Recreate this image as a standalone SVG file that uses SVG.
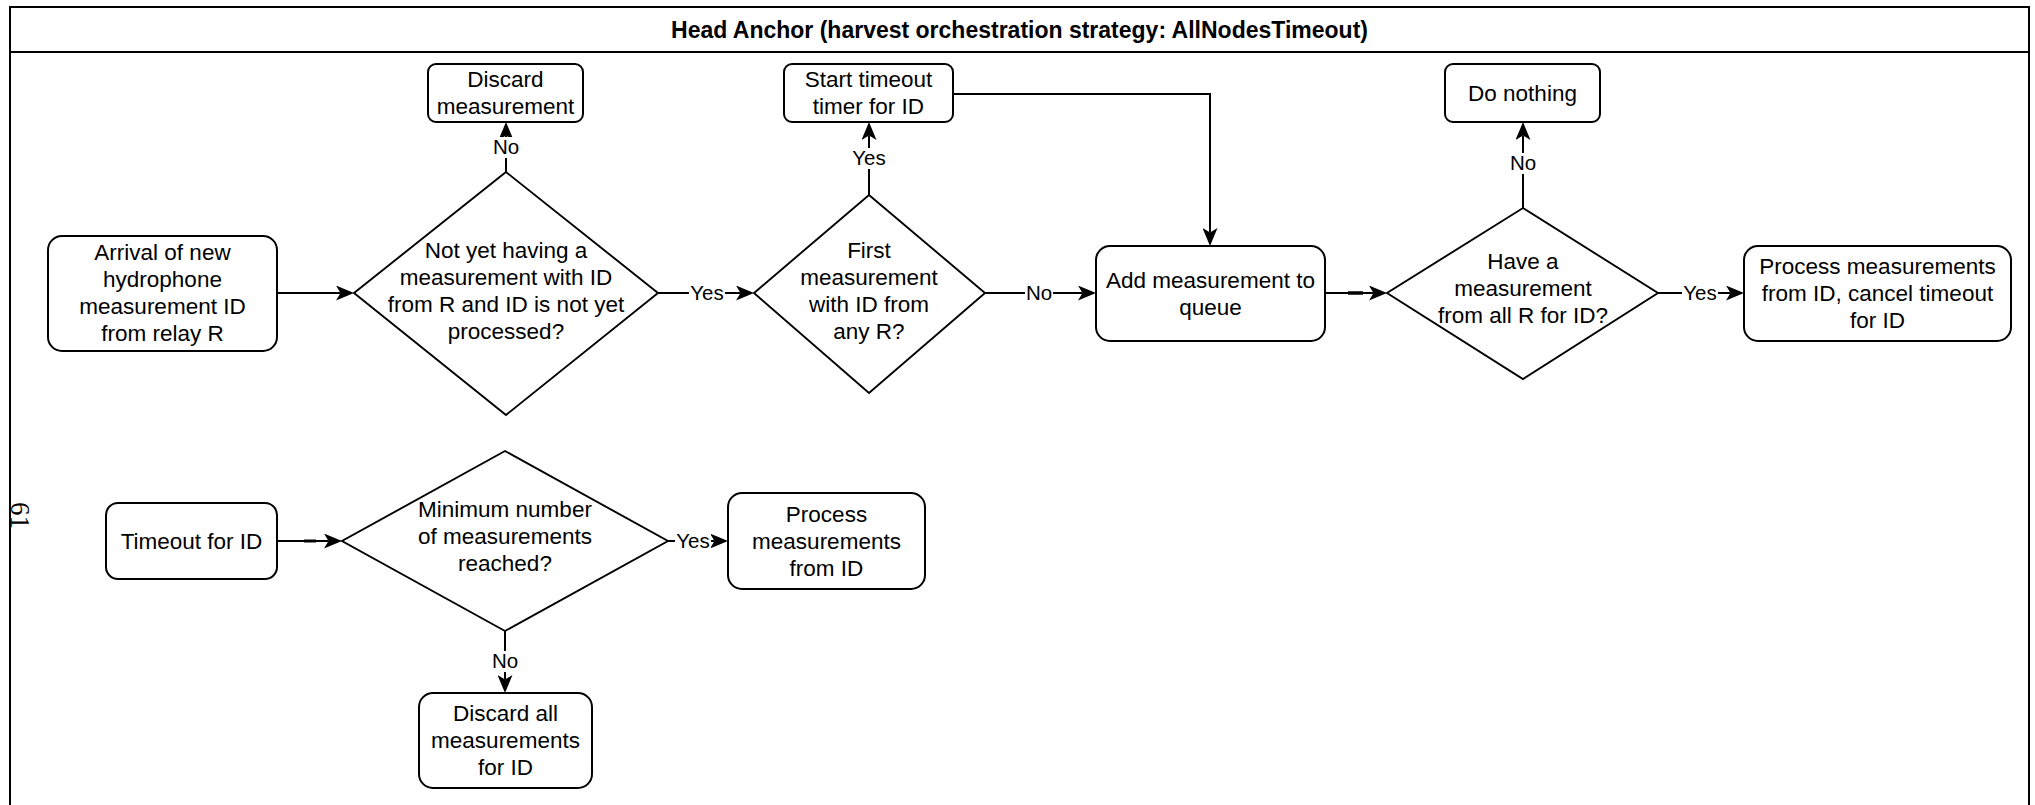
<svg xmlns="http://www.w3.org/2000/svg" width="2035" height="805" viewBox="0 0 2035 805">
  <style>
    .frame { fill: none; stroke: #000; stroke-width: 2; }
    .box { fill: #fff; stroke: #000; stroke-width: 2; }
    .dia { fill: #fff; stroke: #000; stroke-width: 1.9; }
    .t { font-family: "Liberation Sans", Arial, sans-serif; font-size: 22.5px; fill: #000; text-anchor: middle; }
    .title { font-family: "Liberation Sans", Arial, sans-serif; font-size: 23px; font-weight: bold; fill: #000; text-anchor: middle; }
    .edge { fill: none; stroke: #000; stroke-width: 2; marker-end: url(#arrow); }
    .lbl-bg { fill: #fff; }
    .lbl { font-family: "Liberation Sans", Arial, sans-serif; font-size: 20.5px; fill: #000; text-anchor: middle; }
    .page { font-family: "Liberation Serif", "Times New Roman", serif; font-size: 27px; fill: #000; }
  </style>
  <defs>
    <marker id="arrow" viewBox="0 0 18 15" markerWidth="18" markerHeight="15" refX="4.5" refY="7.5" orient="auto" markerUnits="userSpaceOnUse">
      <path d="M0,0 L18,7.5 L0,15 L4.5,7.5 Z" fill="#000"/>
    </marker>
  </defs>

  <rect width="2035" height="805" fill="#fff"/>

  <!-- swimlane container -->
  <g id="lane">
    <rect class="frame" x="10" y="7" width="2019" height="830"/>
    <line x1="10" y1="52" x2="2029" y2="52" stroke="#000" stroke-width="2"/>
    <text class="title" x="1019.5" y="38">Head Anchor (harvest orchestration strategy: AllNodesTimeout)</text>
  </g>

  <!-- page number -->
  <text class="page" transform="translate(11,502) rotate(90)">61</text>

  <!-- connectors -->
  <g id="connectors">
    <path class="edge" d="M277,293 H340.5"/>
    <path class="edge" d="M506,172 V135.5"/>
    <path class="edge" d="M658,293 H740.5"/>
    <path class="edge" d="M869,195 V135.5"/>
    <path class="edge" d="M985,293 H1082.5"/>
    <path class="edge" d="M953,94 H1210 V232.5"/>
    <path class="edge" d="M1325,293 H1373.5"/>
    <path class="edge" d="M1523,208 V135.5"/>
    <path class="edge" d="M1658,293 H1730.5"/>
    <path class="edge" d="M277,541 H328.5"/>
    <path class="edge" d="M668,541 H714.5"/>
    <path class="edge" d="M505,631 V679.5"/>
    <!-- empty label stubs -->
    <line x1="1348" y1="293" x2="1363" y2="293" stroke="#000" stroke-width="3.5"/>
    <line x1="304" y1="541" x2="316" y2="541" stroke="#000" stroke-width="3"/>

    <!-- edge labels -->
    <rect class="lbl-bg" x="492" y="137" width="28" height="21"/>
    <text class="lbl" x="506" y="154">No</text>
    <rect class="lbl-bg" x="689" y="283" width="36" height="21"/>
    <text class="lbl" x="707" y="300">Yes</text>
    <rect class="lbl-bg" x="851" y="148" width="36" height="21"/>
    <text class="lbl" x="869" y="165">Yes</text>
    <rect class="lbl-bg" x="1025" y="283" width="28" height="21"/>
    <text class="lbl" x="1039" y="300">No</text>
    <rect class="lbl-bg" x="1509" y="153" width="28" height="21"/>
    <text class="lbl" x="1523" y="170">No</text>
    <rect class="lbl-bg" x="1682" y="283" width="36" height="21"/>
    <text class="lbl" x="1700" y="300">Yes</text>
    <rect class="lbl-bg" x="675" y="531" width="36" height="21"/>
    <text class="lbl" x="693" y="548">Yes</text>
    <rect class="lbl-bg" x="491" y="651" width="28" height="21"/>
    <text class="lbl" x="505" y="668">No</text>
  </g>

  <!-- nodes -->
  <g id="arrival">
    <rect class="box" x="48" y="236" width="229" height="115" rx="14"/>
    <text class="t" x="162.5"><tspan x="162.5" y="260">Arrival of new</tspan><tspan x="162.5" y="287">hydrophone</tspan><tspan x="162.5" y="314">measurement ID</tspan><tspan x="162.5" y="341">from relay R</tspan></text>
  </g>

  <g id="not-yet-having">
    <polygon class="dia" points="506,172 658,293 506,415 354,293"/>
    <text class="t" x="506"><tspan x="506" y="258">Not yet having a</tspan><tspan x="506" y="285">measurement with ID</tspan><tspan x="506" y="312">from R and ID is not yet</tspan><tspan x="506" y="339">processed?</tspan></text>
  </g>

  <g id="discard">
    <rect class="box" x="428" y="64" width="155" height="58" rx="8"/>
    <text class="t" x="505.5"><tspan x="505.5" y="87">Discard</tspan><tspan x="505.5" y="114">measurement</tspan></text>
  </g>

  <g id="first-measurement">
    <polygon class="dia" points="869,195 985,293 869,393 754,293"/>
    <text class="t" x="869"><tspan x="869" y="258">First</tspan><tspan x="869" y="285">measurement</tspan><tspan x="869" y="312">with ID from</tspan><tspan x="869" y="339">any R?</tspan></text>
  </g>

  <g id="start-timeout">
    <rect class="box" x="784" y="64" width="169" height="58" rx="8"/>
    <text class="t" x="868.5"><tspan x="868.5" y="87">Start timeout</tspan><tspan x="868.5" y="114">timer for ID</tspan></text>
  </g>

  <g id="add-to-queue">
    <rect class="box" x="1096" y="246" width="229" height="95" rx="14"/>
    <text class="t" x="1210.5"><tspan x="1210.5" y="288">Add measurement to</tspan><tspan x="1210.5" y="315">queue</tspan></text>
  </g>

  <g id="have-all">
    <polygon class="dia" points="1523,208 1658,293 1523,379 1387,293"/>
    <text class="t" x="1523"><tspan x="1523" y="269">Have a</tspan><tspan x="1523" y="296">measurement</tspan><tspan x="1523" y="323">from all R for ID?</tspan></text>
  </g>

  <g id="do-nothing">
    <rect class="box" x="1445" y="64" width="155" height="58" rx="8"/>
    <text class="t" x="1522.5" y="101">Do nothing</text>
  </g>

  <g id="process-cancel">
    <rect class="box" x="1744" y="246" width="267" height="95" rx="14"/>
    <text class="t" x="1877.5"><tspan x="1877.5" y="274">Process measurements</tspan><tspan x="1877.5" y="301">from ID, cancel timeout</tspan><tspan x="1877.5" y="328">for ID</tspan></text>
  </g>

  <g id="timeout">
    <rect class="box" x="106" y="503" width="171" height="76" rx="12"/>
    <text class="t" x="191.5" y="549">Timeout for ID</text>
  </g>

  <g id="minimum-reached">
    <polygon class="dia" points="505,451 668,541 505,631 342,541"/>
    <text class="t" x="505"><tspan x="505" y="517">Minimum number</tspan><tspan x="505" y="544">of measurements</tspan><tspan x="505" y="571">reached?</tspan></text>
  </g>

  <g id="process">
    <rect class="box" x="728" y="493" width="197" height="96" rx="14"/>
    <text class="t" x="826.5"><tspan x="826.5" y="522">Process</tspan><tspan x="826.5" y="549">measurements</tspan><tspan x="826.5" y="576">from ID</tspan></text>
  </g>

  <g id="discard-all">
    <rect class="box" x="419" y="693" width="173" height="95" rx="14"/>
    <text class="t" x="505.5"><tspan x="505.5" y="721">Discard all</tspan><tspan x="505.5" y="748">measurements</tspan><tspan x="505.5" y="775">for ID</tspan></text>
  </g>
</svg>
